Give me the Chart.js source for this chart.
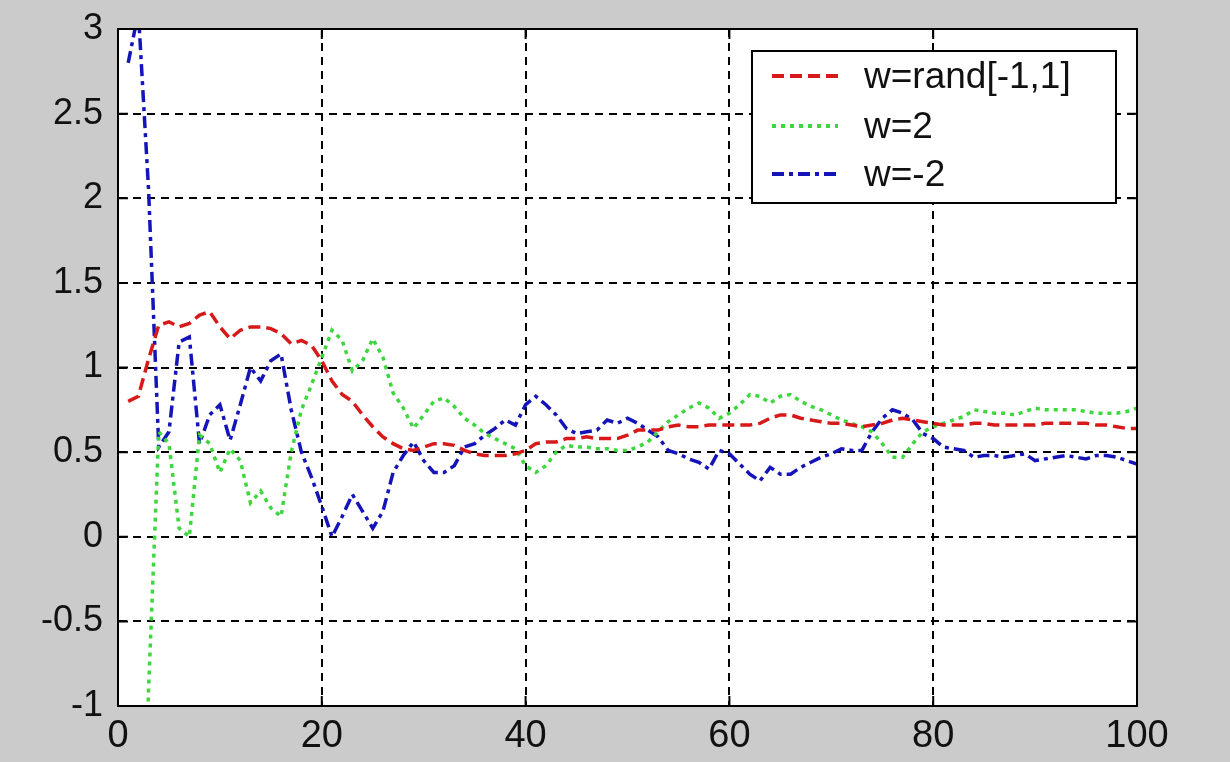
<!DOCTYPE html>
<html>
<head>
<meta charset="utf-8">
<script src="https://cdn.jsdelivr.net/npm/chart.js@4"></script>
<style>
  html, body { margin: 0; padding: 0; background: #cbcbcb; }
  #wrap { width: 1230px; height: 762px; }
</style>
</head>
<body>
<div id="wrap"><canvas id="chart" width="1230" height="762"></canvas></div>
<script>
// iteration index 1..100
const steps = Array.from({ length: 100 }, (_, i) => i + 1);

const wRand = [
  0.80, 0.83, 1.05, 1.25, 1.27, 1.24, 1.26, 1.31, 1.33, 1.24,
  1.17, 1.22, 1.24, 1.24, 1.23, 1.20, 1.14, 1.16, 1.13, 1.04,
  0.92, 0.84, 0.80, 0.72, 0.65, 0.59, 0.55, 0.52, 0.51, 0.53,
  0.55, 0.55, 0.54, 0.51, 0.49, 0.48, 0.48, 0.48, 0.49, 0.51,
  0.55, 0.56, 0.56, 0.58, 0.58, 0.59, 0.58, 0.58, 0.58, 0.60,
  0.63, 0.63, 0.63, 0.65, 0.66, 0.65, 0.65, 0.66, 0.66, 0.66,
  0.66, 0.66, 0.67, 0.70, 0.72, 0.72, 0.70, 0.69, 0.68, 0.67,
  0.67, 0.66, 0.65, 0.66, 0.67, 0.69, 0.70, 0.69, 0.68, 0.67,
  0.66, 0.66, 0.66, 0.67, 0.67, 0.66, 0.66, 0.66, 0.66, 0.66,
  0.67, 0.67, 0.67, 0.67, 0.67, 0.66, 0.66, 0.65, 0.64, 0.64
];

const wPlus2 = [
  -2.60, -2.90, -0.90, 0.62, 0.55, 0.05, 0.00, 0.60, 0.55, 0.38,
  0.52, 0.45, 0.20, 0.27, 0.17, 0.12, 0.50, 0.75, 0.90, 1.06,
  1.22, 1.16, 0.98, 1.04, 1.17, 1.06, 0.85, 0.76, 0.64, 0.72,
  0.80, 0.82, 0.77, 0.70, 0.66, 0.61, 0.58, 0.55, 0.52, 0.42,
  0.38, 0.42, 0.50, 0.54, 0.53, 0.53, 0.52, 0.52, 0.51, 0.51,
  0.53, 0.56, 0.62, 0.68, 0.72, 0.76, 0.79, 0.76, 0.70, 0.73,
  0.78, 0.84, 0.83, 0.79, 0.83, 0.84, 0.80, 0.77, 0.75, 0.72,
  0.69, 0.67, 0.65, 0.62, 0.55, 0.47, 0.47, 0.55, 0.62, 0.65,
  0.67, 0.69, 0.71, 0.75, 0.74, 0.73, 0.73, 0.72, 0.74, 0.76,
  0.75, 0.75, 0.75, 0.75, 0.74, 0.73, 0.73, 0.73, 0.74, 0.76
];

const wMinus2 = [
  2.80, 3.10, 2.05, 0.53, 0.62, 1.15, 1.18, 0.55, 0.72, 0.78,
  0.57, 0.78, 1.00, 0.92, 1.04, 1.08, 0.75, 0.50, 0.35, 0.18,
  0.00, 0.12, 0.25, 0.15, 0.05, 0.15, 0.38, 0.48, 0.56, 0.45,
  0.38, 0.38, 0.42, 0.53, 0.55, 0.60, 0.64, 0.69, 0.66, 0.78,
  0.83, 0.78, 0.72, 0.64, 0.61, 0.62, 0.63, 0.69, 0.67, 0.70,
  0.67, 0.63, 0.59, 0.51, 0.49, 0.46, 0.44, 0.40, 0.51, 0.49,
  0.43, 0.37, 0.33, 0.41, 0.37, 0.37, 0.41, 0.44, 0.47, 0.49,
  0.52, 0.51, 0.51, 0.62, 0.70, 0.75, 0.73, 0.69, 0.61, 0.58,
  0.53, 0.52, 0.51, 0.47, 0.48, 0.48, 0.47, 0.48, 0.49, 0.45,
  0.46, 0.47, 0.48, 0.47, 0.46, 0.48, 0.48, 0.47, 0.45, 0.43
];

const seriesNames = ['w=rand[-1,1]', 'w=2', 'w=-2'];
const seriesColors = ['rgb(215,25,25)', 'rgb(60,215,60)', 'rgb(20,20,185)'];
const seriesDash = [[12, 6], [4, 5], [12, 5, 4, 5]];

const xTicks = [0, 20, 40, 60, 80, 100];
const yTicks = [-1, -0.5, 0, 0.5, 1, 1.5, 2, 2.5, 3];

const toPoints = vals => vals.map((v, i) => ({ x: steps[i], y: v }));

// white axes box, solid frame, inward ticks, legend box
const axesBox = {
  id: 'axesBox',
  beforeDraw(chart) {
    const { ctx, chartArea: a } = chart;
    ctx.save();
    ctx.fillStyle = '#fff';
    ctx.fillRect(a.left, a.top, a.right - a.left, a.bottom - a.top);
    ctx.restore();
  },
  afterDraw(chart) {
    const { ctx, chartArea: a, scales } = chart;
    ctx.save();
    ctx.strokeStyle = '#000';
    ctx.lineWidth = 2;
    ctx.setLineDash([]);
    ctx.strokeRect(a.left, a.top, a.right - a.left, a.bottom - a.top);
    ctx.beginPath();
    xTicks.forEach(t => {
      const px = scales.x.getPixelForValue(t);
      ctx.moveTo(px, a.bottom); ctx.lineTo(px, a.bottom - 10);
      ctx.moveTo(px, a.top); ctx.lineTo(px, a.top + 10);
    });
    yTicks.forEach(t => {
      const py = scales.y.getPixelForValue(t);
      ctx.moveTo(a.left, py); ctx.lineTo(a.left + 10, py);
      ctx.moveTo(a.right, py); ctx.lineTo(a.right - 10, py);
    });
    ctx.stroke();

    // legend
    const bx = 752, by = 51, bw = 364, bh = 152;
    ctx.fillStyle = '#fff';
    ctx.fillRect(bx, by, bw, bh);
    ctx.lineWidth = 2;
    ctx.strokeRect(bx, by, bw, bh);
    ctx.font = '37px "Liberation Sans", Arial, sans-serif';
    ctx.textBaseline = 'middle';
    const rows = [76, 126, 174];
    seriesNames.forEach((name, i) => {
      ctx.strokeStyle = seriesColors[i];
      ctx.lineWidth = 4;
      ctx.setLineDash(seriesDash[i]);
      ctx.beginPath();
      ctx.moveTo(772, rows[i]);
      ctx.lineTo(838, rows[i]);
      ctx.stroke();
      ctx.setLineDash([]);
      ctx.fillStyle = '#111';
      ctx.fillText(name, 864, rows[i] + 2);
    });
    ctx.restore();
  }
};

new Chart(document.getElementById('chart'), {
  type: 'line',
  data: {
    datasets: [wRand, wPlus2, wMinus2].map((vals, i) => ({
      label: seriesNames[i],
      data: toPoints(vals),
      borderColor: seriesColors[i],
      borderDash: seriesDash[i],
      borderWidth: 3.5,
      pointRadius: 0,
      tension: 0,
      fill: false
    }))
  },
  options: {
    responsive: false,
    animation: false,
    layout: { padding: { left: 0, top: 29, right: 93, bottom: 0 } },
    plugins: { legend: { display: false }, tooltip: { enabled: false } },
    scales: {
      x: {
        type: 'linear',
        min: 0, max: 100,
        afterFit: s => { s.height = 56; s.paddingLeft = 0; s.paddingRight = 0; },
        afterBuildTicks: s => { s.ticks = xTicks.map(v => ({ value: v })); },
        grid: { color: '#000', lineWidth: 2, drawTicks: false },
        border: { display: true, color: '#000', width: 2, dash: [8, 6] },
        ticks: {
          color: '#111',
          padding: 8,
          maxRotation: 0,
          callback: v => String(v),
          font: { family: '"Liberation Sans Narrow", "Liberation Sans", Arial, sans-serif', size: 38 }
        }
      },
      y: {
        min: -1, max: 3,
        afterFit: s => { s.width = 118; s.paddingTop = 0; s.paddingBottom = 0; },
        afterBuildTicks: s => { s.ticks = yTicks.map(v => ({ value: v })); },
        grid: { color: '#000', lineWidth: 2, drawTicks: false },
        border: { display: true, color: '#000', width: 2, dash: [8, 6] },
        ticks: {
          color: '#111',
          padding: 15,
          callback: v => String(v),
          font: { family: '"Liberation Sans", Arial, sans-serif', size: 36 }
        }
      }
    }
  },
  plugins: [axesBox]
});
</script>
</body>
</html>
